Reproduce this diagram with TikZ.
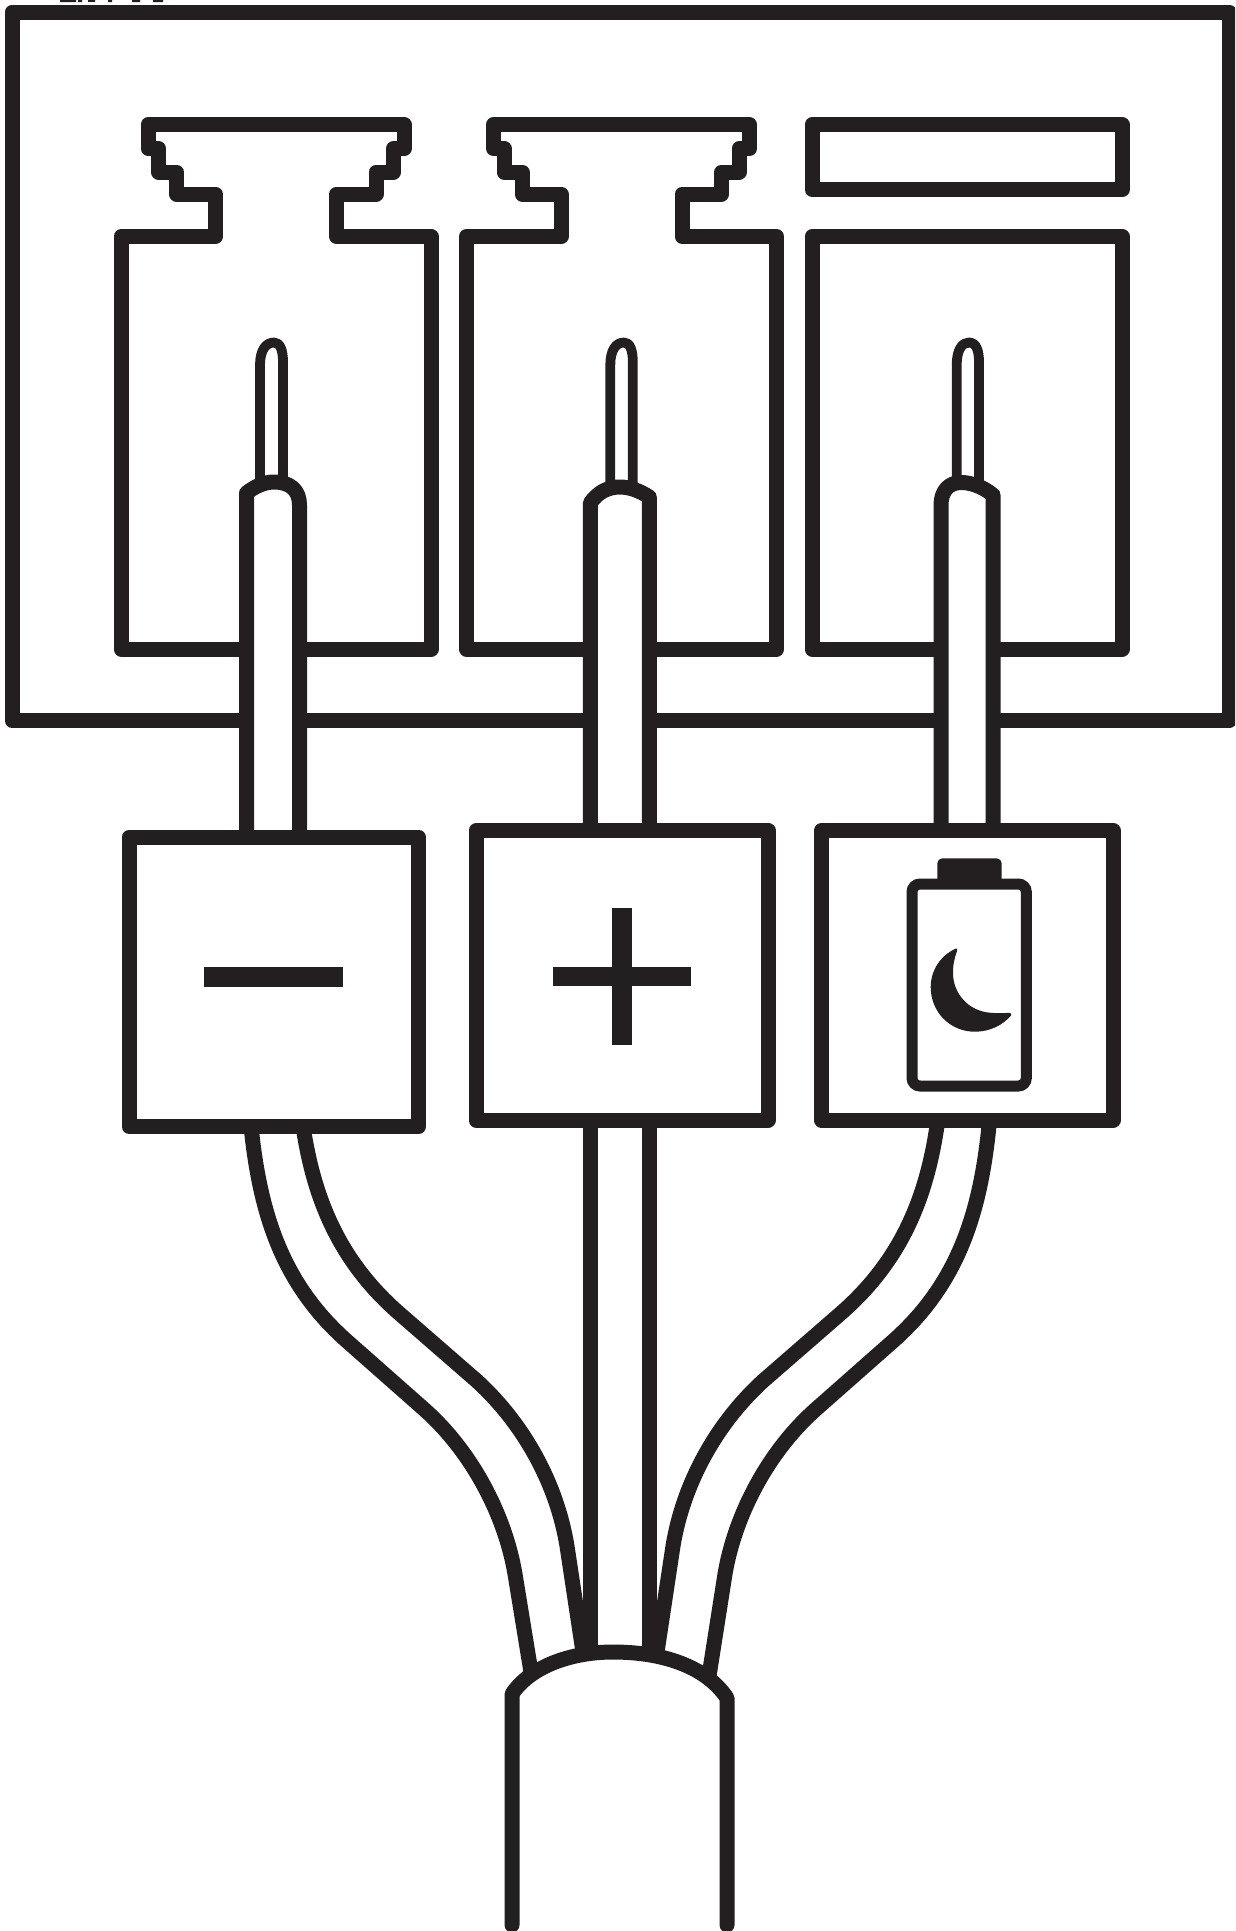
\documentclass[tikz,border=0pt]{standalone}
\definecolor{ink}{HTML}{231F20}
\tikzset{
  heavy/.style={draw=ink,line width=15pt,line join=round,line cap=butt},
  wirebody/.style={heavy,fill=white},
  pinbody/.style={draw=ink,line width=9.8pt,fill=white,line join=round},
  lead/.style={heavy}
}
\begin{document}
\begin{tikzpicture}[x=1pt,y=-1pt]
\useasboundingbox (0,0) rectangle (1235,1931);
\clip (0,0) rectangle (1235,1931);
\fill[white] (0,0) rectangle (1235,1931);
% remnants of a caption cut off by the top edge
\fill[ink] (60,0) rectangle (76,2.2) (78,0) rectangle (82,2.2) (88,0) rectangle (95,1.8) (108,0) rectangle (112,2.2) (132,0) rectangle (140,2.2) (153,0) rectangle (163,2.2);
% outer frame
\draw[heavy] (12,12) rectangle (1229,720.5);
% keyed pockets
\foreach \s in {0,345.5}{
\begin{scope}[xshift=\s pt]
\draw[heavy] (121,649) -- (121,236.5) -- (215.5,236.5) -- (215.5,194) -- (176.5,194) -- (176.5,172) -- (158.5,172) -- (158.5,148.5) -- (148,148.5) -- (148,124.7) -- (404,124.7) -- (404,148.5) -- (393.5,148.5) -- (393.5,172) -- (376,172) -- (376,194) -- (336.5,194) -- (336.5,236.5) -- (431,236.5) -- (431,649) -- cycle;
\end{scope}}
% plain pocket and bar
\draw[heavy] (812,124.7) rectangle (1122,189.6);
\draw[heavy] (812,236.5) rectangle (1122,649);
% pins
\draw[pinbody] (260,495) -- (260,365) .. controls (260,350) and (266,342.5) .. (274,342.5) .. controls (280,342.5) and (283,350) .. (283,362) -- (283,495);
\draw[pinbody] (610.3,495) -- (610.3,365) .. controls (610.3,350) and (616,342.5) .. (624,342.5) .. controls (630,342.5) and (632.8,350) .. (632.8,362) -- (632.8,495);
\draw[pinbody] (956.7,495) -- (956.7,365) .. controls (956.7,350) and (962,342.5) .. (969,342.5) .. controls (976,342.5) and (979,350) .. (979,362) -- (979,495);
% upper wires
\draw[wirebody] (246.5,840) -- (246.5,493) .. controls (254,487) and (264,482) .. (274,482) .. controls (290,482) and (299.5,490) .. (299.5,505) -- (299.5,840);
\draw[wirebody] (590.3,835) -- (590.3,503) .. controls (598,492) and (608,487) .. (620,487) .. controls (630,487) and (640,491) .. (649.3,497) -- (649.3,835);
\draw[wirebody] (941,835) -- (941,505) .. controls (941,492) and (948,482.5) .. (961,482.5) .. controls (970,482.5) and (982,486) .. (993,495) -- (993,835);
% lower leads
\draw[lead] (251,1126) .. controls (260,1215) and (283,1285) .. (348,1342) -- (425,1410) .. controls (472,1452) and (505,1515) .. (515,1574) -- (531,1672);
\draw[lead] (303,1126) .. controls (314,1200) and (340,1262) .. (400,1314) -- (477,1381) .. controls (525,1425) and (557,1485) .. (567,1546) -- (583,1652);
\draw[lead] (989,1126) .. controls (980,1215) and (957,1285) .. (892,1342) -- (815,1410) .. controls (768,1452) and (735,1515) .. (725,1574) -- (709,1676);
\draw[lead] (937,1126) .. controls (926,1200) and (900,1262) .. (840,1314) -- (763,1381) .. controls (715,1425) and (683,1485) .. (673,1546) -- (657,1652);
\draw[lead] (590.3,1120) -- (590.3,1655);
\draw[lead] (649.3,1120) -- (649.3,1655);
% terminal boxes
\draw[heavy,fill=white] (129,837) rectangle (418.5,1126.6);
\draw[heavy,fill=white] (476,830.5) rectangle (768,1120);
\draw[heavy,fill=white] (821.5,830.5) rectangle (1113,1120);
% minus and plus
\fill[ink] (204.3,967) rectangle (343,986.5);
\fill[ink] (552.8,966.6) rectangle (691,986);
\fill[ink] (612,907.5) rectangle (631.7,1045);
% battery
\draw[draw=ink,line width=11pt,rounded corners=8pt] (912,884) rectangle (1026.3,1086);
\fill[ink,rounded corners=5pt] (937.3,885) -- (937.3,858.3) -- (1001.7,858.3) -- (1001.7,885) -- cycle;
\fill[ink] (956,948.5) .. controls (941,955) and (930.7,970) .. (930.7,987) .. controls (930.7,1012) and (950,1031.7) .. (975,1031.7) .. controls (990,1031.7) and (1003,1025) .. (1011,1015.5) .. controls (1012,1014) and (1011,1012.7) .. (1009,1012.8) .. controls (1002,1013.5) and (995,1013.2) .. (990,1012.7) .. controls (968,1011) and (953,993) .. (953,973) .. controls (953,964) and (954.5,958) .. (957,951) .. controls (957.5,949) and (957,948) .. (956,948.5) -- cycle;
% cable
\draw[heavy,line cap=round] (512,1925) -- (512,1694) .. controls (530,1667) and (570,1652) .. (613,1652) .. controls (660,1652) and (705,1665) .. (727,1698) -- (727,1925);
\end{tikzpicture}
\end{document}
